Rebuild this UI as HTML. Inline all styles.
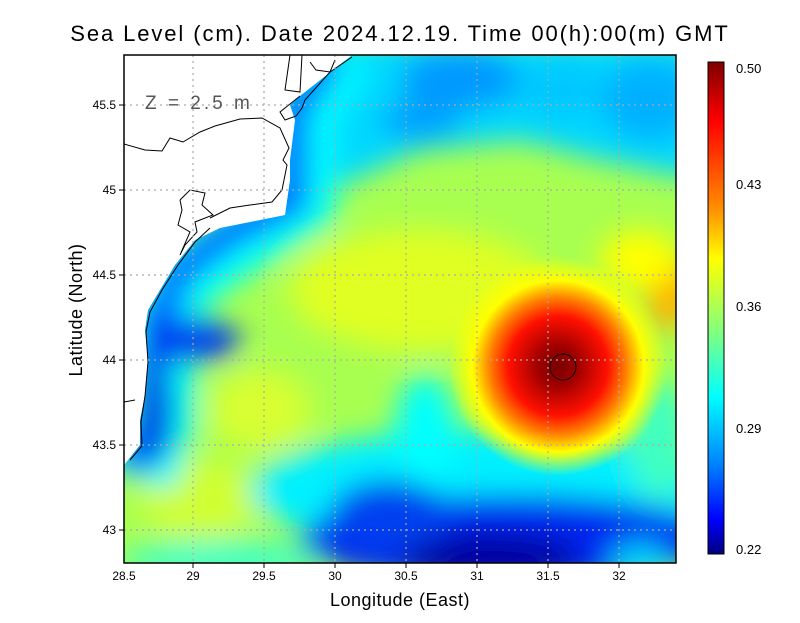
<!DOCTYPE html>
<html><head><meta charset="utf-8"><style>
body{margin:0;background:#fff;width:800px;height:618px;overflow:hidden;font-family:"Liberation Sans",sans-serif}
</style></head><body>
<svg width="800" height="618" xmlns="http://www.w3.org/2000/svg" font-family="Liberation Sans, sans-serif">
<defs>
<clipPath id="pc"><rect x="124" y="55" width="552" height="508"/></clipPath>
<filter id="bl" x="-20%" y="-20%" width="140%" height="140%"><feGaussianBlur stdDeviation="14"/></filter>
<radialGradient id="rg" cx="558" cy="366" r="110" gradientUnits="userSpaceOnUse">
<stop offset="0" stop-color="#7a0000"/><stop offset="0.18" stop-color="#a00000"/>
<stop offset="0.45" stop-color="#ff1000"/><stop offset="0.62" stop-color="#ff8000"/>
<stop offset="0.78" stop-color="#ffff00"/><stop offset="1" stop-color="#ffff00" stop-opacity="0"/>
</radialGradient>
<linearGradient id="cb" x1="0" y1="0" x2="0" y2="1">
<stop offset="0" stop-color="#800000"/><stop offset="0.12" stop-color="#ff0000"/>
<stop offset="0.3" stop-color="#ff9000"/><stop offset="0.4" stop-color="#ffff00"/>
<stop offset="0.55" stop-color="#80ff80"/><stop offset="0.68" stop-color="#00ffff"/>
<stop offset="0.82" stop-color="#0080ff"/><stop offset="0.93" stop-color="#0000ff"/>
<stop offset="1" stop-color="#000080"/>
</linearGradient>
</defs>
<g clip-path="url(#pc)">
<rect x="100" y="40" width="600" height="540" fill="#a8ff50"/>
<g filter="url(#bl)">
<ellipse cx="420" cy="290" rx="130" ry="60" fill="#e0ff20"/>
<ellipse cx="260" cy="410" rx="50" ry="40" fill="#d8ff30"/>
<ellipse cx="200" cy="500" rx="60" ry="40" fill="#d0ff30"/>
<polygon points="280,40 700,40 700,180 600,160 520,140 420,150 330,190 300,230" fill="#00d8ff"/>
<ellipse cx="460" cy="80" rx="60" ry="30" fill="#0098ff"/>
<ellipse cx="420" cy="120" rx="40" ry="20" fill="#00a0ff"/>
<ellipse cx="650" cy="100" rx="50" ry="40" fill="#00b0ff"/>
<ellipse cx="560" cy="90" rx="40" ry="30" fill="#00c8ff"/>
<polyline points="340,50 300,110 300,200 230,245 180,280 160,330 160,420 140,480" fill="none" stroke="#00ffff" stroke-width="70"/>
<polyline points="330,55 292,110 292,200 225,235 180,270 155,320 150,420 130,470" fill="none" stroke="#0050ff" stroke-width="30"/>
<ellipse cx="190" cy="340" rx="50" ry="22" fill="#0030f0"/>
<ellipse cx="155" cy="410" rx="18" ry="55" fill="#0020e0"/>
<ellipse cx="480" cy="490" rx="230" ry="60" fill="#00f0ff"/>
<ellipse cx="425" cy="430" rx="30" ry="55" fill="#00ffff"/>
<ellipse cx="510" cy="540" rx="210" ry="45" fill="#0028f0"/>
<ellipse cx="490" cy="558" rx="90" ry="25" fill="#0000a0"/>
<ellipse cx="390" cy="515" rx="60" ry="35" fill="#0040f0"/>
<ellipse cx="640" cy="560" rx="30" ry="18" fill="#00d0ff"/>
<ellipse cx="660" cy="440" rx="30" ry="60" fill="#40ffc0"/>
<ellipse cx="220" cy="560" rx="100" ry="20" fill="#40ffc8"/>
<ellipse cx="670" cy="290" rx="25" ry="40" fill="#ffb000"/>
<ellipse cx="640" cy="260" rx="40" ry="30" fill="#ffff00"/>
</g>
<circle cx="558" cy="366" r="110" fill="url(#rg)"/>
<polygon points="124,55 352,55 300,96 290,105 295,120 290,160 290,180 285,215 220,228 195,240 175,265 160,290 148,310 145,330 148,360 145,395 140,420 140,445 124,465" fill="#fff"/>
<g fill="none" stroke="#000" stroke-width="1">
<polyline points="124,144 145,150 162,151 170,138 183,142 200,132 215,126 240,119 262,118 280,128 289,148 283,160 287,165 282,190 272,202 250,205 230,208 210,218"/>
<polyline points="300,96 280,112 285,120 296,116 302,108 305,100 330,72 352,57"/>
<polyline points="290,55 285,90 300,92 302,55"/>
<polyline points="310,62 316,70 330,72 335,60"/>
<polyline points="180,200 190,190 205,193 202,205 213,215 195,222 197,232 185,245 180,255 190,232 178,225 182,210 180,200"/>
<polyline points="210,228 195,242 178,265 162,290 150,312 146,332 148,362 145,396 141,422 142,446 130,460"/>
<polyline points="124,402 135,400"/>
<circle cx="563" cy="367" r="13"/>
</g>
</g>
<g stroke="#aaa" stroke-width="1.2" stroke-dasharray="2,4">
<line x1="193" y1="55" x2="193" y2="563"/><line x1="264" y1="55" x2="264" y2="563"/>
<line x1="335" y1="55" x2="335" y2="563"/><line x1="406" y1="55" x2="406" y2="563"/>
<line x1="477" y1="55" x2="477" y2="563"/><line x1="548" y1="55" x2="548" y2="563"/>
<line x1="619" y1="55" x2="619" y2="563"/>
<line x1="124" y1="105" x2="676" y2="105"/><line x1="124" y1="190" x2="676" y2="190"/>
<line x1="124" y1="275" x2="676" y2="275"/><line x1="124" y1="360" x2="676" y2="360"/>
<line x1="124" y1="445" x2="676" y2="445"/><line x1="124" y1="530" x2="676" y2="530"/>
</g>
<text x="145" y="109" font-size="19" fill="#555" letter-spacing="3">Z = 2.5 m</text>
<rect x="124" y="55" width="552" height="508" fill="none" stroke="#000" stroke-width="1.5"/>
<g stroke="#000" stroke-width="1">
<line x1="193" y1="563" x2="193" y2="568"/><line x1="264" y1="563" x2="264" y2="568"/>
<line x1="335" y1="563" x2="335" y2="568"/><line x1="406" y1="563" x2="406" y2="568"/>
<line x1="477" y1="563" x2="477" y2="568"/><line x1="548" y1="563" x2="548" y2="568"/>
<line x1="619" y1="563" x2="619" y2="568"/>
<line x1="119" y1="105" x2="124" y2="105"/><line x1="119" y1="190" x2="124" y2="190"/>
<line x1="119" y1="275" x2="124" y2="275"/><line x1="119" y1="360" x2="124" y2="360"/>
<line x1="119" y1="445" x2="124" y2="445"/><line x1="119" y1="530" x2="124" y2="530"/>
</g>
<g font-size="12" text-anchor="middle" fill="#000">
<text x="124" y="580">28.5</text><text x="193" y="580">29</text><text x="264" y="580">29.5</text>
<text x="335" y="580">30</text><text x="406" y="580">30.5</text><text x="477" y="580">31</text>
<text x="548" y="580">31.5</text><text x="619" y="580">32</text>
</g>
<g font-size="12" text-anchor="end" fill="#000">
<text x="116" y="109">45.5</text><text x="116" y="194">45</text><text x="116" y="279">44.5</text>
<text x="116" y="364">44</text><text x="116" y="449">43.5</text><text x="116" y="534">43</text>
</g>
<text x="400" y="41" font-size="22" text-anchor="middle" letter-spacing="1.9">Sea Level (cm). Date 2024.12.19. Time 00(h):00(m) GMT</text>
<text x="400" y="606" font-size="18" text-anchor="middle" letter-spacing="0.5">Longitude (East)</text>
<text transform="translate(82,310) rotate(-90)" font-size="18" text-anchor="middle" letter-spacing="0.5">Latitude (North)</text>
<rect x="708" y="62" width="16" height="492" fill="url(#cb)" stroke="#000" stroke-width="1"/>
<g font-size="13" fill="#000">
<text x="736" y="73">0.50</text><text x="736" y="189">0.43</text><text x="736" y="311">0.36</text>
<text x="736" y="433">0.29</text><text x="736" y="554">0.22</text>
</g>
</svg>
</body></html>
